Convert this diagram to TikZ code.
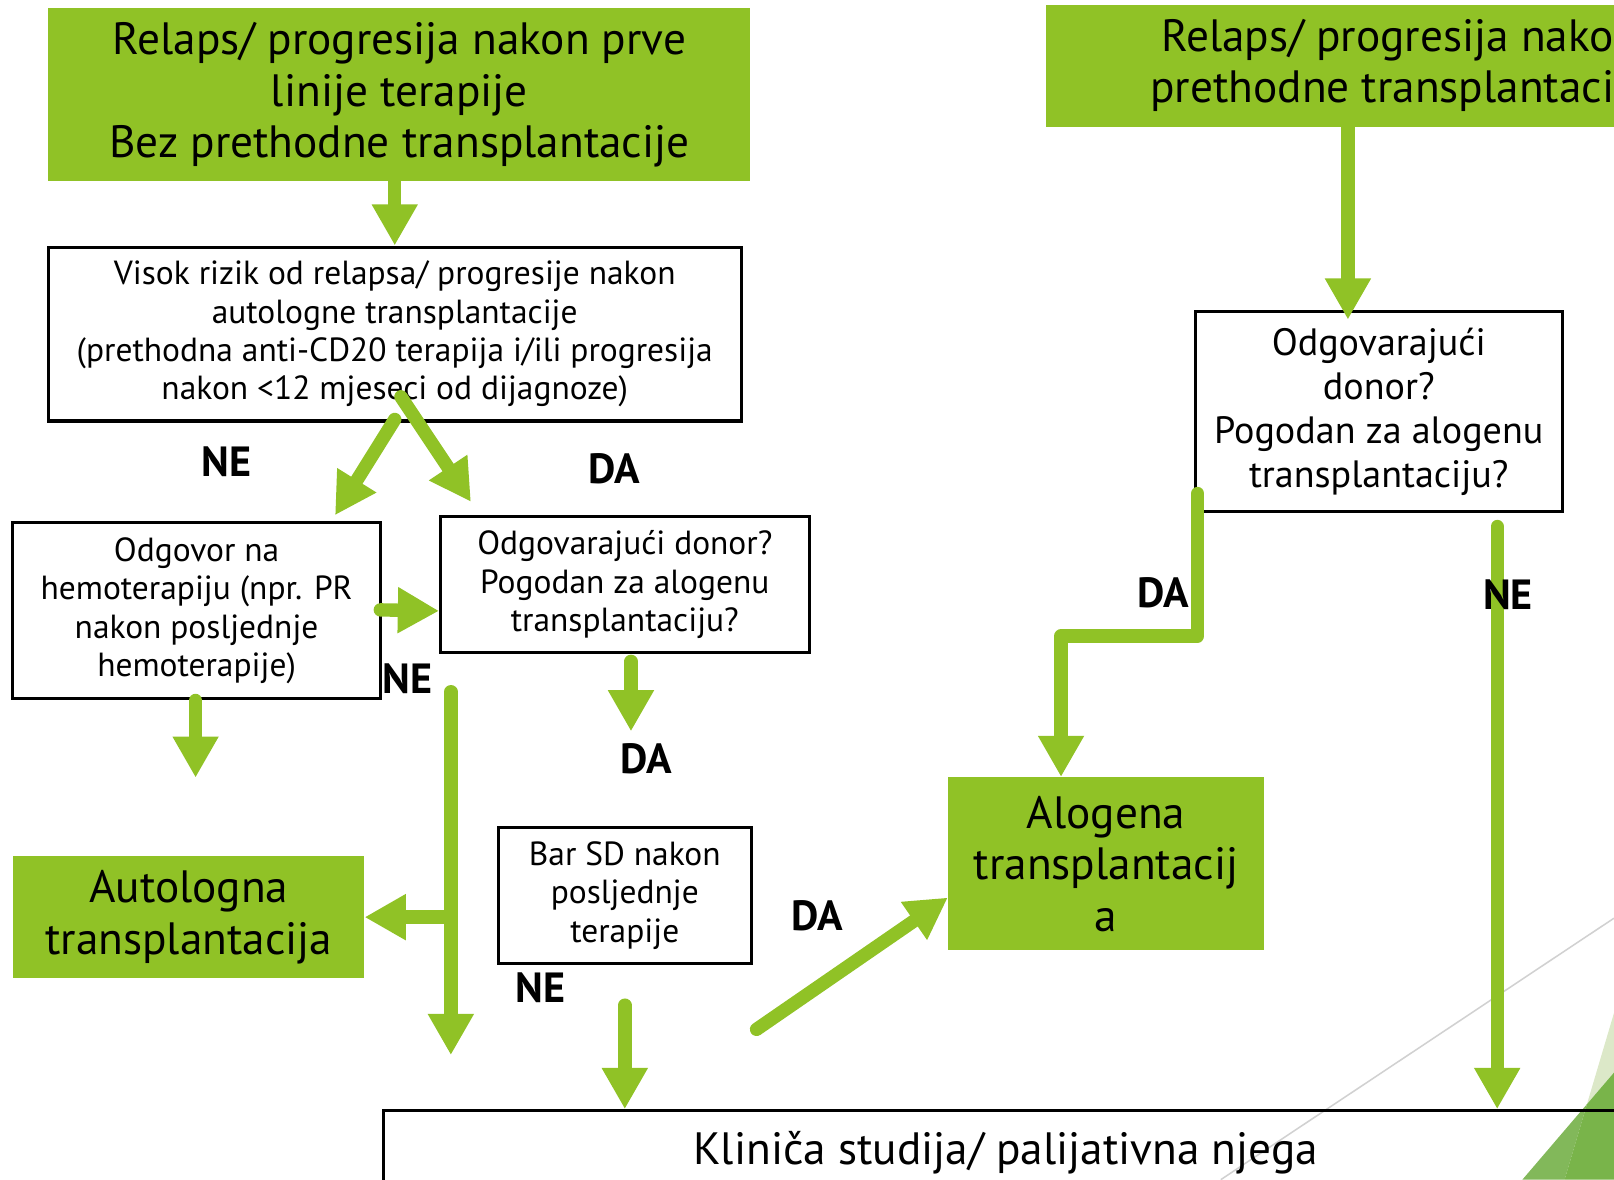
\documentclass[tikz,border=0pt]{standalone}
\usepackage{fontspec}
\setmainfont{PT Sans}
\usetikzlibrary{arrows.meta,calc}
\definecolor{facetgreen}{HTML}{90C226}
\definecolor{trilight}{HTML}{DCE8C8}
\definecolor{trimid}{HTML}{82B85A}
\definecolor{tridark}{HTML}{79B44A}

\begin{document}
\begin{tikzpicture}[x=1pt,y=-1pt,
  box/.style={draw=black, line width=3pt, fill=white, align=center, inner sep=0pt},
  gbox/.style={fill=facetgreen, align=center, inner sep=0pt},
  big/.style={font=\fontsize{44}{50}\selectfont, execute at begin node={\rule{0pt}{41pt}}},
  mid/.style={font=\fontsize{37}{43}\selectfont, execute at begin node={\rule{0pt}{35pt}}},
  small/.style={font=\fontsize{32.5}{37.3}\selectfont, execute at begin node={\rule{0pt}{31pt}}},
  lab/.style={font=\fontsize{41}{44}\selectfont\bfseries},
  arr/.style={facetgreen, line width=13pt, line cap=round, line join=round,
    -{Triangle[width=42pt,length=40pt]}}]
 \useasboundingbox (0,0) rectangle (1568,1146);
 \clip (0,0) rectangle (1568,1146);

	% Ukras
 \draw[black!18, line width=1.5pt] (1186,1146) -- (1568,892);
 \fill[trilight] (1568,984) -- (1541.7,1072.7) -- (1568,1042) -- cycle;
 \fill[trimid] (1541.7,1072.7) -- (1479,1146) -- (1520,1146) -- cycle;
 \fill[tridark] (1541.7,1072.7) -- (1520,1146) -- (1568,1146) -- (1568,1042) -- cycle;

	% Polja
 \node[gbox, big, minimum width=682, minimum height=168] (A) at (388,92)
   {Relaps/ progresija nakon prve\\linije terapije\\Bez prethodne transplantacije};
 \node[gbox, big, minimum width=688, minimum height=118] (B) at (1360,64)
   {Relaps/ progresija nakon\\prethodne transplantacije};
 \node[box, small, minimum width=673, minimum height=169] (C) at (383.5,324.5)
   {Visok rizik od relapsa/ progresije nakon\\autologne transplantacije\\(prethodna anti-CD20 terapija i/ili progresija\\nakon <12 mjeseci od dijagnoze)};
 \node[box, small, minimum width=358, minimum height=171] (D) at (191,593.5)
   {Odgovor na\\hemoterapiju (npr. PR\\nakon posljednje\\hemoterapije)};
 \node[box, small, minimum width=358, minimum height=132] (E) at (607,568)
   {Odgovarajući donor?\\Pogodan za alogenu\\transplantaciju?};
 \node[gbox, big, minimum width=341, minimum height=118] (F) at (183.5,891)
   {Autologna\\transplantacija};
 \node[box, small, minimum width=246, minimum height=132] (G) at (607,870)
   {Bar SD nakon\\posljednje\\terapije};
 \node[gbox, big, minimum width=307, minimum height=168] (H) at (1074.5,839)
   {Alogena\\transplantacij\\a};
 \node[box, mid, minimum width=357, minimum height=194] (I) at (1339.5,400)
   {Odgovarajući\\donor?\\Pogodan za alogenu\\transplantaciju?};
 \node[box, fill=none, big, minimum width=1208, minimum height=72] (J) at (977,1115)
   {Kliniča studija/ palijativna njega};

	% Slobodni krajevi
 \coordinate (dEnd) at ($(D.south)+(-1,75)$);
 \coordinate (eTop) at ($(E.south)+(6,7)$);
 \coordinate (eEnd) at ($(E.south)+(6,75)$);
 \coordinate (neTop) at (438,672);
 \coordinate (neEnd) at (438,1025);
 \coordinate (gTop) at ($(G.south)+(0,39)$);
 \coordinate (daTop) at (735,1000);
 \coordinate (iTip) at ($(I.north)+(-30,9)$);
 \coordinate (iRight) at ($(I.south east)+(-65,13)$);

	% Strelice
 \draw[arr] (C.north |- A.south) -- (C.north);
 \draw[arr] ($(C.south)+(0,-3)$) -- ($(D.north east)+(-46,-6)$);
 \draw[arr] ($(C.south)+(6,-25)$) -- ($(E.north west)+(31,-13)$);
 \draw[arr] ($(D.east)+(-2,-1)$) -- ($(E.south west)+(0,-42)$);
 \draw[arr] ($(D.south)+(-1,0)$) -- (dEnd);
 \draw[arr] (eTop) -- (eEnd);
 \draw[arr] (neTop) -- (neEnd);
 \draw[arr] (neTop |- F.east) -- (F.east);
 \draw[arr] (gTop) -- (gTop |- J.north);
 \draw[arr] (daTop) -- ($(H.west)+(0,33)$);
 \draw[arr] (iTip |- B.south) -- (iTip);
 \draw[arr] ($(I.south west)+(4,-19)$) |- ($(H.north west)+(110,-137)$) -- ($(H.north west)+(110,0)$);
 \draw[arr] (iRight) -- (iRight |- J.north);

	% Oznake
 \node[lab] (ne1) at (220,449) {NE};
 \node[lab] (da1) at (597,455) {DA};
 \node[lab] (ne2) at (396,659) {NE};
 \node[lab] (da2) at (628,737) {DA};
 \node[lab] (da3) at (794,890) {DA};
 \node[lab] (ne3) at (525,960) {NE};
 \node[lab] (da4) at (1130,576) {DA};
 \node[lab] (ne4) at (1465,578) {NE};
\end{tikzpicture}
\end{document}
